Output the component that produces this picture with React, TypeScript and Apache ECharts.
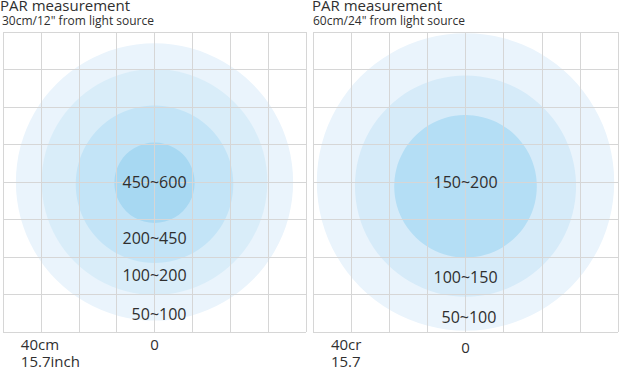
import React, { useEffect, useRef } from 'react';
import * as echarts from 'echarts';

// Panel headings
const titles = ['PAR measurement', 'PAR measurement'];
const subtitles = ['30cm/12" from light source', '60cm/24" from light source'];

// Axis ticks (cm from the centre), both axes
const axisMin = -40;
const axisMax = 40;
const axisStep = 10;
const centreTick = ['0'];

// Left panel (30cm): rings, outer → inner: [centreX, centreY, radius] in cm
const leftRingX = [0, 0, 0, 0];
const leftRingY = [0, 0, -0.6, -0.2];
const leftRingR = [36.6, 29.8, 20.8, 10.6];
const leftRingColors = ['#eaf4fc', '#d9edf9', '#c3e4f7', '#a7d8f2'];
const leftRanges = ['450~600', '200~450', '100~200', '50~100'];
const leftRangeX = [0, 0, 0, 1.2];
const leftRangeY = [0, -14.9, -24.8, -35.1];
const leftDistance = ['40cm', '15.7inch'];

// Right panel (60cm)
const rightRingX = [0, 0, 0];
const rightRingY = [0, -1.1, -0.8];
const rightRingR = [39, 29, 18.7];
const rightRingColors = ['#eaf4fc', '#d6ebf9', '#b4def5'];
const rightRanges = ['150~200', '100~150', '50~100'];
const rightRangeX = [0, 0, 0.9];
const rightRangeY = [0, -25.2, -36];
const rightDistance = ['40cr', '15.7'];

// distance labels: [x, y] in cm (below the grid)
const distanceX = -35.3;
const distanceLineY = [-43.2, -47.8];

const FONT = '"Open Sans", "Noto Sans", sans-serif';
const TEXT = '#2f2f2f';
const GRIDLINE = '#d6d6d6';

function ringSeries(idx: number, xs: number[], ys: number[], rs: number[], colors: string[]) {
  return {
    type: 'custom',
    xAxisIndex: idx,
    yAxisIndex: idx,
    z: 1,
    clip: true,
    data: rs.map((r, i) => [xs[i], ys[i], r]),
    renderItem: (params: any, api: any) => {
      const c = api.coord([api.value(0), api.value(1)]);
      const r = api.size([api.value(2), 0])[0];
      return {
        type: 'circle',
        shape: { cx: c[0], cy: c[1], r },
        style: { fill: colors[params.dataIndex] },
      };
    },
  };
}

function textSeries(idx: number, xs: number[], ys: number[], texts: string[], align: string, size: number) {
  return {
    type: 'custom',
    xAxisIndex: idx,
    yAxisIndex: idx,
    z: 5,
    clip: false,
    data: texts.map((t, i) => [xs[i], ys[i]]),
    renderItem: (params: any, api: any) => {
      const c = api.coord([api.value(0), api.value(1)]);
      return {
        type: 'text',
        x: c[0],
        y: c[1],
        style: {
          text: texts[params.dataIndex],
          fill: TEXT,
          font: `${size}px ${FONT}`,
          align,
          verticalAlign: 'middle',
        },
      };
    },
  };
}

function axisPair(idx: number, labelMargin: number) {
  const x = {
    type: 'value',
    gridIndex: idx,
    min: axisMin,
    max: axisMax,
    interval: axisStep,
    z: 3,
    axisLine: { show: false },
    axisTick: { show: false },
    axisLabel: {
      show: true,
      margin: labelMargin,
      fontFamily: FONT,
      fontSize: 15,
      color: TEXT,
      formatter: (v: number) => (v === 0 ? centreTick[0] : ''),
    },
    splitLine: { show: true, lineStyle: { color: GRIDLINE, width: 1 } },
  };
  const y = {
    type: 'value',
    gridIndex: idx,
    min: axisMin,
    max: axisMax,
    interval: axisStep,
    z: 3,
    axisLine: { show: false },
    axisTick: { show: false },
    axisLabel: { show: false },
    splitLine: { show: true, lineStyle: { color: GRIDLINE, width: 1 } },
  };
  return { x, y };
}

export default function App() {
  const ref = useRef<HTMLDivElement>(null);
  useEffect(() => {
    if (!ref.current) return;
    const chart = echarts.init(ref.current, undefined, { renderer: 'svg' });
    const a0 = axisPair(0, 4);
    const a1 = axisPair(1, 7);
    chart.setOption({
      animation: false,
      backgroundColor: '#ffffff',
      grid: [
        { left: 2, top: 32, width: 304, height: 300 },
        { left: 313, top: 32, width: 307, height: 300 },
      ],
      xAxis: [a0.x, a1.x],
      yAxis: [a0.y, a1.y],
      graphic: [
        { type: 'text', left: 0, top: -3, style: { text: titles[0], font: `15px ${FONT}`, fill: TEXT } },
        { type: 'text', left: 2, top: 14, style: { text: subtitles[0], font: `12px ${FONT}`, fill: TEXT } },
        { type: 'text', left: 312, top: -3, style: { text: titles[1], font: `15px ${FONT}`, fill: TEXT } },
        { type: 'text', left: 313, top: 14, style: { text: subtitles[1], font: `12px ${FONT}`, fill: TEXT } },
      ],
      series: [
        ringSeries(0, leftRingX, leftRingY, leftRingR, leftRingColors),
        ringSeries(1, rightRingX, rightRingY, rightRingR, rightRingColors),
        textSeries(0, leftRangeX, leftRangeY, leftRanges, 'center', 16),
        textSeries(1, rightRangeX, rightRangeY, rightRanges, 'center', 16),
        textSeries(0, [distanceX, distanceX], distanceLineY, leftDistance, 'left', 15),
        textSeries(1, [distanceX, distanceX], distanceLineY, rightDistance, 'left', 15),
      ],
    });
    return () => chart.dispose();
  }, []);
  return (
    <div
      ref={ref}
      style={{ position: 'fixed', left: 0, top: 0, width: 621, height: 367, background: '#fff' }}
    />
  );
}
